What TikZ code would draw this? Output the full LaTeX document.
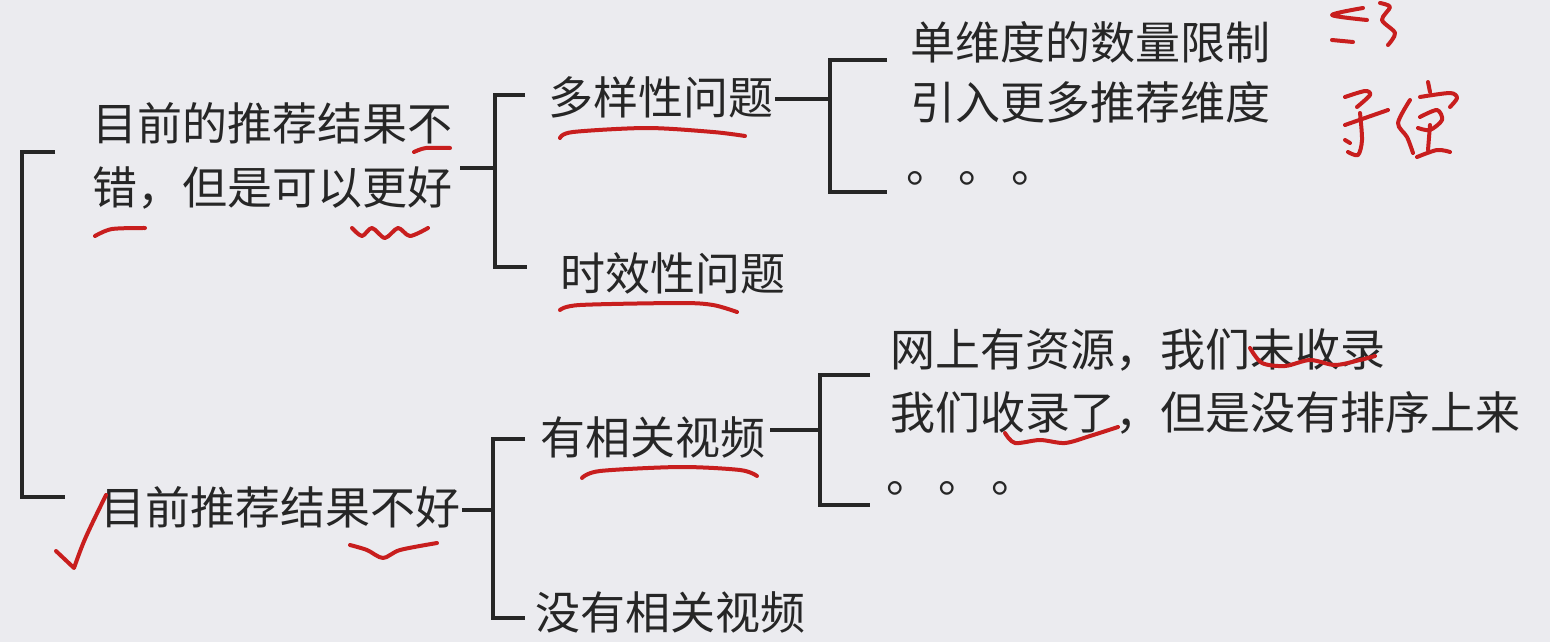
\documentclass[tikz,border=0pt]{standalone}
\usepackage{fontspec}
\setmainfont{Noto Sans CJK SC}
\usepackage{xcolor}
\usepackage{tikz}
\usetikzlibrary{calc}
\definecolor{PaperGray}{HTML}{EBEBEF}
\definecolor{InkGray}{HTML}{262626}
\definecolor{PenRed}{HTML}{C81E1E}
\tikzset{
  item/.style={anchor=west,inner sep=0pt,text=InkGray,align=left,
    font=\fontsize{45}{64}\selectfont},
  link/.style={line width=3.5pt,draw=InkGray},
  bracket/.style={link,line join=miter},
  pen/.style={draw=PenRed,line width=4pt,line cap=round,line join=round}
}

\begin{document}
\begin{tikzpicture}[x=1pt,y=-1pt]
  \fill[PaperGray] (0,0) rectangle (1550,642);
  \useasboundingbox (0,0) rectangle (1550,642);
  \node[item] (good) at (92,156) {目前的推荐结果不\\错，但是可以更好};
  \node[item] (bad) at (100,507) {目前推荐结果不好};
  \node[item] (div) at (548,97) {多样性问题};
  \node[item] (fresh) at (560,273) {时效性问题};
  \node[item] (hasvid) at (540,437) {有相关视频};
  \node[item] (novid) at (535,612) {没有相关视频};
  \node[item] (divA) at (910,42) {单维度的数量限制};
  \node[item] (divB) at (910,102) {引入更多推荐维度};
  \node[item] (divC) at (906,178) {。\,。\,。};
  \node[item] (vidA) at (890,350) {网上有资源，我们未收录};
  \node[item] (vidB) at (890,413) {我们收录了，但是没有排序上来};
  \node[item] (vidC) at (886,488) {。\,。\,。};
  \coordinate (tGood) at (55,152); \coordinate (tBad) at (65,497);
  \coordinate (jGood) at (495,168); \coordinate (tDiv) at (525,95); \coordinate (tFresh) at (527,267);
  \coordinate (jBad) at (493,510); \coordinate (tHas) at (525,439); \coordinate (tNo) at (525,618);
  \coordinate (jDiv) at (830,99); \coordinate (tDivA) at (887,60); \coordinate (tDivC) at (887,192);
  \coordinate (jHas) at (820,430); \coordinate (tVidA) at (870,375); \coordinate (tVidC) at (870,505);
  \draw[bracket] (tGood) -- ++(-33,0) |- (tBad);
  \draw[link,shorten >=8pt] (jGood) -- (jGood -| good.east);
  \draw[bracket] (tDiv) -| (jGood) |- (tFresh);
  \draw[link,shorten >=2pt] (jBad) -- (jBad -| bad.east);
  \draw[bracket] (tHas) -| (jBad) |- (tNo);
  \draw[link,shorten >=2pt] (jDiv) -- (jDiv -| div.east);
  \draw[bracket] (tDivA) -| (jDiv) |- (tDivC);
  \draw[link,shorten >=5pt] (jHas) -- (jHas -| hasvid.east);
  \draw[bracket] (tVidA) -| (jHas) |- (tVidC);
  \draw[pen] plot[smooth] coordinates {(414,152) (426,148) (450,148)};
  \draw[pen] plot[smooth] coordinates {(95,236) (112,229) (145,228)};
  \draw[pen] plot[smooth] coordinates {(352,228) (362,236) (372,228) (385,238) (398,228) (410,236) (428,228)};
  \draw[pen] plot[smooth] coordinates {(560,138) (573,132) (647,128) (713,132) (745,136)};
  \draw[pen] plot[smooth] coordinates {(560,310) (580,305) (680,303) (713,305) (737,312)};
  \draw[pen] (56,551) -- (74,568) .. controls (84,540) .. (106,495);
  \draw[pen] plot[smooth] coordinates {(350,545) (367,550) (383,558) (400,550) (437,543)};
  \draw[pen] plot[smooth] coordinates {(582,478) (600,471) (680,467) (740,470) (757,476)};
  \draw[pen] plot[smooth] coordinates {(1250,348) (1262,363) (1285,366) (1310,360) (1335,365) (1360,360) (1375,356)};
  \draw[pen] plot[smooth] coordinates {(1005,433) (1015,443) (1040,440) (1065,443) (1090,436) (1118,427)};
  \draw[pen] plot[smooth] coordinates {(1363,8) (1332,15) (1367,20)};
  \draw[pen] (1332,40) -- (1353,42);
  \draw[pen] plot[smooth] coordinates {(1380,3) (1390,7) (1382,20) (1395,33) (1388,45)};
  \draw[pen] plot[smooth] coordinates {(1345,97) (1365,91) (1370,95) (1357,107)};
  \draw[pen] plot[smooth] coordinates {(1345,125) (1365,118) (1388,110)};
  \draw[pen] plot[smooth] coordinates {(1360,113) (1362,140) (1358,155) (1348,152)};
  \draw[pen] (1345,140) -- (1350,143);
  \draw[pen] (1428,82) -- (1430,92);
  \draw[pen] plot[smooth] coordinates {(1410,100) (1398,123) (1407,137) (1413,153)};
  \draw[pen] plot[smooth] coordinates {(1420,97) (1450,93) (1457,98) (1450,107)};
  \draw[pen] plot[smooth] coordinates {(1420,117) (1437,110) (1442,120) (1430,130) (1418,128)};
  \draw[pen] (1430,125) -- (1428,150);
  \draw[pen] plot[smooth] coordinates {(1417,157) (1437,150) (1450,152)};
\end{tikzpicture}
\end{document}
